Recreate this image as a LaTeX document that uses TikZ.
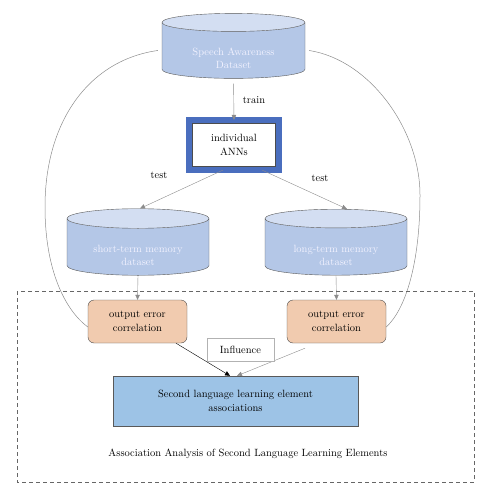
\documentclass[tikz,border=0pt]{standalone}
\usetikzlibrary{shapes.geometric,arrows.meta}
\definecolor{cylbody}{HTML}{B4C7E7}
\definecolor{cyltop}{HTML}{D3DEF2}
\definecolor{annblue}{HTML}{4A6EBE}
\definecolor{errorange}{HTML}{F1CBAF}
\definecolor{assocblue}{HTML}{9DC3E6}
\definecolor{edgegray}{HTML}{8C8C8C}
\begin{document}
\begin{tikzpicture}[x=1pt, y=-1pt,
    every node/.style = {align=center, font=\fontsize{10.5}{13.5}\selectfont},
    dbase/.style = {cylinder, shape border rotate=90, draw=gray!70!black, cylinder uses custom fill,
      cylinder body fill=cylbody, cylinder end fill=cyltop, aspect=0.22, text=white!95!blue,
      minimum width=143pt, minimum height=65pt, inner sep=0pt, text height=37pt, text depth=0pt},
    netbox/.style = {draw=gray!60!black, double=annblue, double distance=6pt, line width=0.6pt,
      fill=white, minimum width=89.5pt, minimum height=49.5pt, inner sep=0pt},
    errbox/.style = {draw=gray!60!black, rounded corners=6pt, fill=errorange,
      minimum width=99pt, minimum height=43pt, inner sep=0pt},
    flow/.style = {draw=edgegray, -{Triangle[length=5pt, width=4.5pt]}},
    loop/.style = {draw=edgegray, line width=0.5pt}]
  \useasboundingbox (0,0) rectangle (492,500);

  \node (sad) at (233.5, 50.5) [dbase] {Speech Awareness\\Dataset};
  \node (ann) at (234, 145) [netbox] {individual\\ANNs};
  \node (stm) at (138, 247) [dbase, minimum width=142pt, minimum height=66pt] {short-term memory\\dataset};
  \node (ltm) at (336, 247) [dbase, minimum width=142pt, minimum height=66pt] {long-term memory\\dataset};
  \node (oec1) at (137.5, 321.5) [errbox] {output error\\correlation};
  \node (oec2) at (336.5, 321.5) [errbox] {output error\\correlation};
  \node (sla) at (235.5, 401) [draw=gray!70!black, fill=assocblue, minimum width=245pt, minimum height=50pt] {Second language learning element\\associations};

  \node (train) at (254, 100) {train};
  \node (test1) at (159, 175) {test};
  \node (test2) at (320, 178) {test};

  \draw[flow, shorten <=5pt] (sad.south) -- (ann.north);
  \draw[flow] ([xshift=-11pt]ann.south) -- ([xshift=2pt]stm.north);
  \draw[flow] ([xshift=28pt]ann.south) -- ([xshift=11pt]ltm.north);
  \draw[flow] (stm.south) -- (oec1.north);
  \draw[flow] (ltm.south) -- (oec2.north);
  \draw[-{Triangle[length=5pt, width=4.5pt]}, black] ([xshift=38.5pt]oec1.south) -- ([xshift=-5.5pt]sla.north);
  \draw[flow] ([xshift=-31.5pt, yshift=-5pt]oec2.south) -- ([xshift=1.5pt]sla.north);

  \node (infl) at (240.5, 349.5) [draw=gray!60, fill=white, minimum width=67pt, minimum height=23pt, inner sep=0pt] {Influence};

  \draw[loop] ([xshift=-4pt]sad.west) .. controls (90,60) and (45,120) .. (45,207)
    .. controls (45,270) and (65,310) .. ([yshift=-5.5pt]oec1.west);
  \draw[loop] ([xshift=4pt]sad.east) .. controls (370,60) and (420,130) .. (420,195)
    .. controls (420,265) and (405,310) .. ([yshift=-5.5pt]oec2.east);

  \draw[dashed, gray!80!black, dash pattern=on 4pt off 3pt] (17,291) rectangle (474,482);
  \node (caption) at (248, 454) {Association Analysis of Second Language Learning Elements};
\end{tikzpicture}
\end{document}
